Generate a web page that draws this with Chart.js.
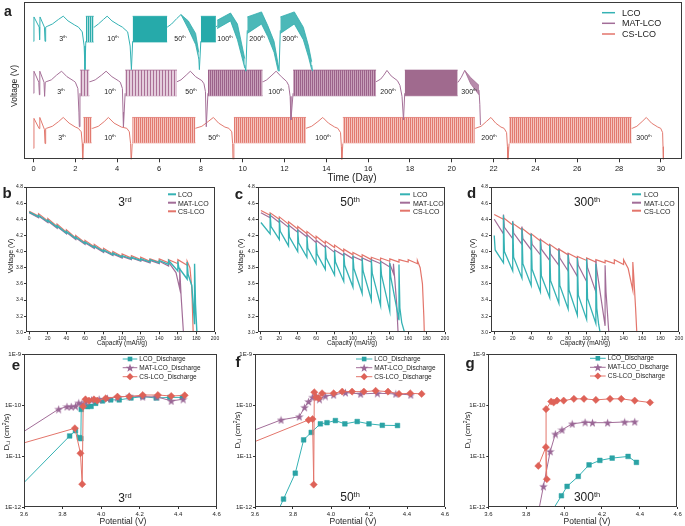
<!DOCTYPE html>
<html><head><meta charset="utf-8">
<script src="https://cdn.jsdelivr.net/npm/chart.js@4.4.1/dist/chart.umd.min.js"></script>
<style>
html,body{margin:0;padding:0;background:#fff}
body{width:685px;height:526px;position:relative;overflow:hidden;font-family:"Liberation Sans",Arial,sans-serif;color:#222}
canvas{position:absolute}
.t,.l,.r{position:absolute;white-space:nowrap;line-height:1;z-index:5}
.t{transform:translate(-50%,-50%)}
.l{transform:translate(0,-50%)}
.r{transform:translate(-50%,-50%) rotate(-90deg)}
.b{font-weight:bold}
sup{font-size:0.62em;vertical-align:0.6em;line-height:0}
sub{font-size:0.62em;vertical-align:-0.3em;line-height:0}
svg{position:absolute;left:0;top:0;z-index:4}
</style></head><body>
<canvas id="ca" width="685" height="185" style="left:0;top:0"></canvas>
<canvas id="cb" width="225" height="162" style="left:0;top:183px"></canvas>
<canvas id="cc" width="225" height="162" style="left:228px;top:183px"></canvas>
<canvas id="cd" width="227" height="162" style="left:458px;top:183px"></canvas>
<canvas id="ce" width="225" height="180" style="left:0;top:346px"></canvas>
<canvas id="cf" width="225" height="180" style="left:228px;top:346px"></canvas>
<canvas id="cg" width="227" height="180" style="left:458px;top:346px"></canvas>

<svg width="685" height="526">
 <g stroke-width="1.5">
  <line x1="602" x2="615" y1="12.7" y2="12.7" stroke="#35B2B4"/>
  <line x1="602" x2="615" y1="23.3" y2="23.3" stroke="#A26D98"/>
  <line x1="602" x2="615" y1="34" y2="34" stroke="#E3756B"/>
 </g>
 <g stroke-width="2">
  <line x1="168" x2="176" y1="194.3" y2="194.3" stroke="#35B2B4"/>
  <line x1="168" x2="176" y1="202.7" y2="202.7" stroke="#A26D98"/>
  <line x1="168" x2="176" y1="211.3" y2="211.3" stroke="#E3756B"/>
  <line x1="400" x2="410" y1="194.3" y2="194.3" stroke="#35B2B4"/>
  <line x1="400" x2="410" y1="202.7" y2="202.7" stroke="#A26D98"/>
  <line x1="400" x2="410" y1="210.7" y2="210.7" stroke="#E3756B"/>
  <line x1="632" x2="641" y1="194.3" y2="194.3" stroke="#35B2B4"/>
  <line x1="632" x2="641" y1="202.7" y2="202.7" stroke="#A26D98"/>
  <line x1="632" x2="641" y1="210.7" y2="210.7" stroke="#E3756B"/>
 </g>
 <g id="lg" stroke-width="1"></g>
</svg>

<div class="t b" style="left:8px;top:11px;font-size:14px">a</div>
<div class="r" style="left:14px;top:86px;font-size:8.5px">Voltage (V)</div>
<div class="t" style="left:352px;top:178px;font-size:10px">Time (Day)</div>
<div class="l" style="left:622px;top:12.7px;font-size:9px">LCO</div>
<div class="l" style="left:622px;top:23.3px;font-size:9px">MAT-LCO</div>
<div class="l" style="left:622px;top:34px;font-size:9px">CS-LCO</div>

<div style="font-size:7px">
<div class="t" style="left:63px;top:38px">3<sup>th</sup></div>
<div class="t" style="left:113px;top:38px">10<sup>th</sup></div>
<div class="t" style="left:180px;top:38px">50<sup>th</sup></div>
<div class="t" style="left:225px;top:38px">100<sup>th</sup></div>
<div class="t" style="left:257px;top:38px">200<sup>th</sup></div>
<div class="t" style="left:290px;top:38px">300<sup>th</sup></div>
<div class="t" style="left:61px;top:91px">3<sup>th</sup></div>
<div class="t" style="left:110px;top:91px">10<sup>th</sup></div>
<div class="t" style="left:191px;top:91px">50<sup>th</sup></div>
<div class="t" style="left:276px;top:91px">100<sup>th</sup></div>
<div class="t" style="left:388px;top:91px">200<sup>th</sup></div>
<div class="t" style="left:469px;top:91px">300<sup>th</sup></div>
<div class="t" style="left:62px;top:137px">3<sup>th</sup></div>
<div class="t" style="left:110px;top:137px">10<sup>th</sup></div>
<div class="t" style="left:214px;top:137px">50<sup>th</sup></div>
<div class="t" style="left:323px;top:137px">100<sup>th</sup></div>
<div class="t" style="left:489px;top:137px">200<sup>th</sup></div>
<div class="t" style="left:644px;top:137px">300<sup>th</sup></div>
</div>

<div class="t b" style="left:7px;top:192px;font-size:15px">b</div>
<div class="t b" style="left:239px;top:193px;font-size:15px">c</div>
<div class="t b" style="left:471.5px;top:191.5px;font-size:15px">d</div>
<div class="t b" style="left:16px;top:364px;font-size:15px">e</div>
<div class="t b" style="left:238px;top:361px;font-size:15px">f</div>
<div class="t b" style="left:470px;top:362px;font-size:15px">g</div>

<div class="t" style="left:125px;top:202px;font-size:12px">3<sup>rd</sup></div>
<div class="t" style="left:350px;top:202px;font-size:12px">50<sup>th</sup></div>
<div class="t" style="left:587px;top:202px;font-size:12px">300<sup>th</sup></div>
<div class="t" style="left:125px;top:498px;font-size:12px">3<sup>rd</sup></div>
<div class="t" style="left:350px;top:497px;font-size:12px">50<sup>th</sup></div>
<div class="t" style="left:587px;top:497px;font-size:12px">300<sup>th</sup></div>

<div style="font-size:7px">
<div class="l" style="left:178px;top:194.3px">LCO</div>
<div class="l" style="left:178px;top:202.7px">MAT-LCO</div>
<div class="l" style="left:178px;top:211.3px">CS-LCO</div>
<div class="l" style="left:413px;top:194.3px">LCO</div>
<div class="l" style="left:413px;top:202.7px">MAT-LCO</div>
<div class="l" style="left:413px;top:210.7px">CS-LCO</div>
<div class="l" style="left:644px;top:194.3px">LCO</div>
<div class="l" style="left:644px;top:202.7px">MAT-LCO</div>
<div class="l" style="left:644px;top:210.7px">CS-LCO</div>
</div>
<div style="font-size:7px">
<div class="r" style="left:10px;top:256px">Voltage (V)</div>
<div class="r" style="left:240px;top:256px">Voltage (V)</div>
<div class="r" style="left:472px;top:256px">Voltage (V)</div>
<div class="t" style="left:122px;top:343px;font-size:6.5px">Capacity (mAh/g)</div>
<div class="t" style="left:352px;top:343px;font-size:6.5px">Capacity (mAh/g)</div>
<div class="t" style="left:585px;top:343px;font-size:6.5px">Capacity (mAh/g)</div>
</div>

<div style="font-size:6.5px">
<div class="l" style="left:139.3px;top:359px">LCO_Discharge</div>
<div class="l" style="left:139.3px;top:367.7px">MAT-LCO_Discharge</div>
<div class="l" style="left:139.3px;top:376.7px">CS-LCO_Discharge</div>
<div class="l" style="left:374.3px;top:359px">LCO_Discharge</div>
<div class="l" style="left:374.3px;top:367.7px">MAT-LCO_Discharge</div>
<div class="l" style="left:374.3px;top:376.7px">CS-LCO_Discharge</div>
<div class="l" style="left:607.7px;top:358.3px">LCO_Discharge</div>
<div class="l" style="left:607.7px;top:367.3px">MAT-LCO_Discharge</div>
<div class="l" style="left:607.7px;top:376px">CS-LCO_Discharge</div>
</div>
<div style="font-size:8px">
<div class="r" style="left:7px;top:432px">D<sub>Li</sub> (cm<sup>2</sup>/s)</div>
<div class="r" style="left:238px;top:430px">D<sub>Li</sub> (cm<sup>2</sup>/s)</div>
<div class="r" style="left:468px;top:430px">D<sub>Li</sub> (cm<sup>2</sup>/s)</div>
<div class="t" style="left:123px;top:521px;font-size:8.5px">Potential (V)</div>
<div class="t" style="left:353px;top:521px;font-size:8.5px">Potential (V)</div>
<div class="t" style="left:587px;top:521px;font-size:8.5px">Potential (V)</div>
</div>

<script>
// ---------------- Panel a : GITT time series ----------------
const timeTicks = [0,2,4,6,8,10,12,14,16,18,20,22,24,26,28,30];

const lcoT = [0,0.02,0.27,0.29,0.31,0.52,0.55,0.58,0.65,0.9,1.2,1.42,1.65,1.95,2.15,2.33,2.42,2.46,2.5,2.5,
  2.88,2.9,3.1,3.35,3.52,3.75,4.05,4.25,4.5,4.62,4.68,4.74,4.74,
  6.39,6.4,6.6,6.85,7.05,7.05,
  7.9,7.93,8.0,8.0,
  8.72,8.78,8.78,
  10.1,10.15,10.22,10.22,
  11.7,11.74,11.8,11.8,
  13.3,13.34];
const lcoV = [75,90.5,84,76,90.5,84,75,84,84.5,86,89,91,88,85.5,84,81,72,57,75,null,
  84,84,86,89,91,88,85.5,84,81,72,57,75,null,
  84,84,86,89.5,92,null,
  65,57,75,null,
  84,85,null,
  60,56,82,null,
  60,56,82,null,
  60,56];

const matT = [0,0.02,0.25,0.28,0.3,0.5,0.53,0.56,0.6,0.85,1.1,1.34,1.6,1.9,2.0,2.12,2.17,2.19,2.22,2.22,
  2.67,2.7,2.95,3.25,3.47,3.75,4.05,4.15,4.25,4.28,4.3,4.38,4.38,
  6.86,6.87,7.05,7.3,7.5,7.75,8.05,8.15,8.22,8.26,8.34,8.34,
  10.95,10.98,11.15,11.4,11.6,11.85,12.1,12.2,12.27,12.31,12.41,12.41,
  16.38,16.4,16.6,16.75,16.9,17.1,17.4,17.52,17.62,17.69,17.75,17.75,
  20.28,20.3,20.45,20.62,20.62,
  21.3,21.34,21.37];
const matV = [42,56,49,41,56,49,40,49,49.3,50.5,53.5,56,52.5,50,49,45,30,20.7,42,null,
  49.3,49.3,50.5,53.5,56,52.5,50,49,45,30,20.7,42,null,
  49.3,49.3,50.5,53.5,56,52.5,50,48,43,20.7,42,null,
  49.3,49.3,50.5,53.5,56,52.5,49.5,47,40,25,42,null,
  49.3,49.3,51,53.5,56.5,53,50,47,40,25,42,null,
  49,49,52,56.5,null,
  44,35,21.8];

const csT = [0,0.02,0.27,0.3,0.52,0.55,0.58,0.62,0.9,1.2,1.42,1.7,2.0,2.14,2.28,2.33,2.35,2.38,2.38,
  2.78,2.83,3.1,3.38,3.58,3.85,4.2,4.46,4.58,4.64,4.67,4.72,4.72,
  7.74,7.76,8.05,8.35,8.6,8.85,9.15,9.34,9.48,9.52,9.54,9.58,9.58,
  13.03,13.06,13.3,13.6,13.83,14.1,14.4,14.55,14.68,14.72,14.74,14.79,14.79,
  21.1,21.13,21.4,21.65,21.87,22.1,22.35,22.5,22.62,22.66,22.68,22.74,22.74,
  28.6,28.63,28.85,29.1,29.3,29.55,29.85,29.99,30.08,30.1,30.12];
const csV = [7,26,19.5,26.6,19,10,19.5,19.7,21,24,26.6,23,20.5,19.7,17.5,10,-2,10,null,
  19.7,19.7,21,24,26.6,23,20.5,19.7,17.5,10,-2,10,null,
  19.7,19.7,21,24,26.6,23,20.5,19.7,17.5,10,-2,10,null,
  19.7,19.7,21,24,26.6,23,20.5,19.7,17,8,-2,10,null,
  19.7,19.7,21,24,26.6,23,20.5,19.7,17,8,-2,10,null,
  19.7,19.7,21,24,26.6,23,20.5,19.7,17,8,-2];

// GITT pulse blocks (time span, upper and lower envelopes)
const lcoBandT  = [[2.5,2.88],[4.74,6.39],[7.05,7.4,7.75,7.9],[8.0,8.72],[8.78,9.42,9.75,10.1],[10.22,10.9,11.2,11.5,11.7],[11.8,12.47,12.9,13.15,13.3]];
const lcoBandHi = [[90.9,90.9],[90.9,90.9],[92,88,80,68],[90.9,90.9],[88.4,93,86,64],[90.5,93.7,85,75,60],[90.5,93.7,84,72,62]];
const lcoBandLo = [[74.6,74.6],[74.6,74.6],[92,83,73,64],[74.6,74.6],[83.1,88,76,58],[80,86,78,68,56],[80,86,76,65,57]];
const matBandT  = [[2.22,2.67],[4.38,6.86],[8.34,10.95],[12.41,16.38],[17.75,20.28],[20.62,20.9,21.3]];
const matBandHi = [[56.7,56.7],[56.7,56.7],[56.7,56.7],[56.7,56.7],[56.7,56.7],[56.5,52,47]];
const matBandLo = [[40.4,40.4],[40.4,40.4],[40.4,40.4],[40.4,40.4],[40.4,40.4],[56.5,48,41]];
const csBandT   = [[2.38,2.78],[4.72,7.74],[9.58,13.03],[14.79,21.1],[22.74,28.6]];
const csBandHi  = [[26.6,26.6],[26.6,26.6],[26.6,26.6],[26.6,26.6],[26.6,26.6]];
const csBandLo  = [[10.5,10.5],[10.5,10.5],[10.5,10.5],[10.5,10.5],[10.5,10.5]];

// ---------------- Panels b-d : GITT discharge curves ----------------
const capTicks = [0,20,40,60,80,100,120,140,160,180,200];
const voltTicks = [3.0,3.2,3.4,3.6,3.8,4.0,4.2,4.4,4.6,4.8];

const b_LCO_cap = [0,10,20,30,40,50,60,70,80,90,100,110,120,130,140,150,160,170,175,178];
const b_LCO_low = [null,4.43,4.37,4.30,4.23,4.16,4.10,4.05,4.00,3.96,3.93,3.91,3.89,3.87,3.86,3.84,3.76,3.66,3.58,3.10];
const b_LCO_top = [4.49,4.45,4.39,4.32,4.25,4.18,4.12,4.07,4.02,3.98,3.95,3.93,3.91,3.90,3.89,3.89,3.88,3.87,3.58,3.85];
const b_LCO_start = [null,null,null,null,null,null,null,null,null,null,null,null,null,null,null,null,3.80,3.72,null,null];
const b_LCO_tailCap = [179,180.5];
const b_LCO_tailV = [3.35,3.0];
const b_MAT_cap = [0,10,20,30,40,50,60,70,80,90,100,110,120,130,140,150,158,162];
const b_MAT_low = [null,4.42,4.36,4.29,4.22,4.15,4.09,4.04,3.99,3.95,3.92,3.90,3.88,3.86,3.85,3.82,3.74,3.54];
const b_MAT_top = [4.48,4.44,4.38,4.31,4.24,4.17,4.11,4.06,4.01,3.97,3.94,3.92,3.90,3.89,3.88,3.87,3.74,3.80];
const b_MAT_tailCap = [163.5,166];
const b_MAT_tailV = [3.45,3.0];
const b_CS_cap = [0,10,20,30,40,50,60,70,80,90,100,110,120,130,140,150,160,170];
const b_CS_low = [null,4.44,4.38,4.31,4.24,4.17,4.11,4.06,4.01,3.97,3.94,3.92,3.90,3.88,3.87,3.86,3.85,3.83];
const b_CS_top = [4.50,4.47,4.41,4.34,4.27,4.20,4.14,4.09,4.04,4.00,3.97,3.95,3.93,3.91,3.91,3.90,3.90,3.88];
const b_CS_tailCap = [173,175,176.5];
const b_CS_tailV = [3.80,3.55,3.0];

const c_LCO_cap = [0,10,20,30,40,50,60,70,80,90,100,110,120,130,140,150];
const c_LCO_low = [null,4.22,4.15,4.07,4.00,3.93,3.85,3.78,3.71,3.63,3.56,3.48,3.40,3.33,3.26,3.15];
const c_LCO_top = [4.36,4.47,4.41,4.34,4.27,4.19,4.11,4.06,4.01,3.98,3.95,3.92,3.90,3.88,3.86,3.84];
const c_LCO_start = [null,4.31,4.25,4.18,4.11,4.04,3.97,3.92,3.87,3.83,3.79,3.76,3.73,3.71,3.69,null];
const c_LCO_tailCap = [151,153,156];
const c_LCO_tailV = [3.30,3.12,3.0];
const c_MAT_cap = [0,10,20,30,40,50,60,70,80,90,100,110,120,130,140,144];
const c_MAT_low = [null,4.42,4.36,4.30,4.24,4.18,4.11,4.05,3.99,3.95,3.91,3.89,3.87,3.85,3.81,3.73];
const c_MAT_top = [4.48,4.45,4.39,4.33,4.27,4.21,4.14,4.08,4.02,3.98,3.94,3.92,3.90,3.88,3.85,3.85];
const c_MAT_tailCap = [145.5,147.5,149];
const c_MAT_tailV = [3.65,3.35,3.0];
const c_CS_cap = [0,10,20,30,40,50,60,70,80,90,100,110,120,130,140,150,160,170];
const c_CS_low = [null,4.45,4.40,4.34,4.28,4.22,4.16,4.10,4.05,4.00,3.96,3.93,3.90,3.89,3.88,3.87,3.87,3.85];
const c_CS_top = [4.51,4.48,4.43,4.37,4.31,4.25,4.19,4.13,4.08,4.03,3.99,3.96,3.93,3.92,3.91,3.90,3.90,3.89];
const c_CS_tailCap = [173,175.5,177,177.5];
const c_CS_tailV = [3.80,3.60,3.20,3.0];

const d_LCO_cap = [0,10,20,30,40,50,60,70,80,90,100,110];
const d_LCO_low = [null,3.86,3.76,3.67,3.58,3.50,3.43,3.36,3.29,3.21,3.16,3.11];
const d_LCO_top = [4.20,4.45,4.37,4.29,4.22,4.14,4.08,4.02,3.96,3.92,3.91,3.85];
const d_LCO_start = [4.02,4.00,3.93,3.85,3.78,3.70,3.64,3.58,3.52,3.46,3.42,null];
const d_LCO_tailCap = [111,113,114.6];
const d_LCO_tailV = [3.30,3.10,3.0];
const d_MAT_cap = [0,10,20,30,40,50,60,70,80,90,100,110,120];
const d_MAT_low = [null,4.22,4.16,4.09,4.02,3.96,3.89,3.83,3.76,3.69,3.63,3.50,3.08];
const d_MAT_top = [4.40,4.46,4.38,4.31,4.22,4.16,4.09,4.04,3.98,3.93,3.91,3.89,3.83];
const d_MAT_start = [null,4.30,4.23,4.16,4.09,4.03,3.97,3.92,3.87,3.83,3.80,3.78,null];
const d_MAT_tailCap = [121,124];
const d_MAT_tailV = [3.50,3.0];
const d_CS_cap = [0,10,20,30,40,50,60,70,80,90,100,110,120,130,140,145,150];
const d_CS_low = [null,4.40,4.33,4.27,4.20,4.13,4.07,4.01,3.96,3.92,3.89,3.87,3.86,3.85,3.84,3.79,3.52];
const d_CS_top = [4.46,4.42,4.35,4.29,4.22,4.15,4.09,4.03,3.98,3.94,3.92,3.90,3.89,3.90,3.90,3.79,3.87];
const d_CS_tailCap = [151,153,154.3];
const d_CS_tailV = [3.70,3.30,3.0];

// ---------------- Panels e-g : diffusion coefficients ----------------
const potTicks = [3.6,3.8,4.0,4.2,4.4,4.6];
const dTicks = [1e-12,1e-11,1e-10,1e-9];

const e_LCO_x = [3.50,3.837,3.867,3.888,3.895,3.897,3.93,3.948,3.972,4.007,4.05,4.094,4.155,4.216,4.286,4.356,4.422];
const e_LCO_y = [1.24e-12,2.47e-11,3.14e-11,2.29e-11,2.19e-11,8.2e-11,9.3e-11,9.4e-11,1.08e-10,1.2e-10,1.26e-10,1.26e-10,1.37e-10,1.46e-10,1.37e-10,1.41e-10,1.41e-10];
const e_MAT_x = [3.50,3.78,3.823,3.845,3.867,3.884,3.90,3.92,3.95,3.99,4.033,4.085,4.146,4.216,4.29,4.364,4.426];
const e_MAT_y = [1.74e-11,8.3e-11,9.3e-11,9.3e-11,9.5e-11,1.1e-10,1.05e-10,1.15e-10,1.25e-10,1.3e-10,1.35e-10,1.42e-10,1.5e-10,1.45e-10,1.45e-10,1.2e-10,1.3e-10];
const e_CS_x = [3.50,3.864,3.893,3.902,3.907,3.919,3.937,3.963,3.98,4.024,4.085,4.146,4.216,4.295,4.364,4.434];
const e_CS_y = [1.41e-11,3.5e-11,1.13e-11,2.8e-12,9.3e-11,1.29e-10,1.22e-10,1.29e-10,1.22e-10,1.35e-10,1.46e-10,1.46e-10,1.57e-10,1.57e-10,1.5e-10,1.55e-10];

const f_LCO_x = [3.70,3.75,3.812,3.856,3.896,3.944,3.979,4.023,4.073,4.138,4.20,4.27,4.35];
const f_LCO_y = [5.6e-13,1.43e-12,4.6e-12,2.07e-11,2.9e-11,4.27e-11,4.5e-11,4.95e-11,4.27e-11,4.74e-11,4.27e-11,4.0e-11,3.96e-11];
const f_MAT_x = [3.50,3.737,3.833,3.861,3.882,3.903,3.921,3.939,3.97,4.014,4.076,4.156,4.244,4.341,4.42];
const f_MAT_y = [2.34e-11,5.1e-11,5.9e-11,9.0e-11,1.17e-10,1.42e-10,1.5e-10,1.3e-10,1.5e-10,1.58e-10,1.75e-10,1.65e-10,1.7e-10,1.65e-10,1.58e-10];
const f_CS_x = [3.50,3.882,3.903,3.909,3.912,3.921,3.935,3.953,4.014,4.059,4.111,4.173,4.235,4.30,4.358,4.417,4.477];
const f_CS_y = [1.36e-11,5.1e-11,5.3e-11,2.75e-12,1.78e-10,1.42e-10,1.37e-10,1.7e-10,1.7e-10,1.83e-10,1.83e-10,1.83e-10,1.9e-10,1.83e-10,1.65e-10,1.7e-10,1.65e-10];

const g_LCO_x = [3.93,3.986,4.016,4.075,4.132,4.189,4.254,4.338,4.382];
const g_LCO_y = [7.6e-13,1.66e-12,2.54e-12,3.98e-12,6.7e-12,8.2e-12,9.1e-12,9.8e-12,7.5e-12];
const g_MAT_x = [3.86,3.891,3.927,3.954,3.989,4.043,4.111,4.15,4.23,4.32,4.373];
const g_MAT_y = [6.5e-13,2.54e-12,1.23e-11,2.7e-11,3.26e-11,4.27e-11,4.6e-11,4.5e-11,4.5e-11,4.65e-11,4.7e-11];
const g_CS_x = [3.864,3.904,3.909,3.905,3.932,3.945,3.963,3.998,4.052,4.105,4.168,4.243,4.302,4.373,4.454];
const g_CS_y = [6.4e-12,1.49e-11,3.5e-12,8.3e-11,1.17e-10,1.12e-10,1.22e-10,1.22e-10,1.32e-10,1.32e-10,1.26e-10,1.32e-10,1.32e-10,1.22e-10,1.12e-10];

// ---------------- styling & helpers ----------------
const TEAL='#35B2B4', PURP='#A26D98', RED='#E3756B';
const TEAL_M='#2BA3A5', PURP_M='#9A6796', RED_M='#DE6258';
Chart.defaults.font.family='"Liberation Sans", Arial, sans-serif';
Chart.defaults.color='#222';

function stripes(bg, fg, period){
  const c=document.createElement('canvas'); c.width=period; c.height=4;
  const g=c.getContext('2d'); g.fillStyle=bg; g.fillRect(0,0,period,4);
  g.fillStyle=fg; g.fillRect(0,0,1,4);
  return g.createPattern(c,'repeat');
}
function starImg(fill, size){
  const c=document.createElement('canvas'); c.width=c.height=size;
  const g=c.getContext('2d'); g.beginPath();
  for(let i=0;i<10;i++){
    const r=(i%2? 0.2:0.5)*size, a=-Math.PI/2+i*Math.PI/5;
    g.lineTo(size/2+r*Math.cos(a), size/2+0.5+r*Math.sin(a));
  }
  g.closePath(); g.fillStyle=fill; g.fill(); return c;
}
const boxPlugin={id:'box',afterDraw(ch){
  const a=ch.chartArea,c=ch.ctx; c.save(); c.strokeStyle='#3a3a3a'; c.lineWidth=1;
  c.strokeRect(Math.round(a.left)+0.5,Math.round(a.top)+0.5,Math.round(a.right-a.left)-1,Math.round(a.bottom-a.top)-1);
  c.restore();}};

function xScale(o){
  return {type:o.type||'linear',min:o.min,max:o.max,
    afterFit:s=>{s.height=o.h;},
    afterBuildTicks:s=>{s.ticks=o.ticks.map(v=>({value:v}));},
    grid:{display:true,drawOnChartArea:false,drawTicks:true,tickLength:o.tl||2,color:'#333'},
    border:{display:false},
    ticks:{font:{size:o.fs},color:'#222',padding:o.pad||1,maxRotation:0,autoSkip:false,callback:o.cb}};
}
function yScale(o){
  const s=xScale(o); s.afterFit=sc=>{sc.width=o.w;}; return s;
}
function baseOpts(scales,pad){
  return {responsive:false,animation:false,devicePixelRatio:1,
    layout:{padding:pad},
    plugins:{legend:{display:false},tooltip:{enabled:false}},
    scales:scales,elements:{line:{tension:0}}};
}

// ---------------- Panel a ----------------
(function(){
  const sets=[];
  function trace(T,V,col){
    sets.push({data:T.map((t,i)=>({x:t,y:V[i]})),borderColor:col,borderWidth:1,pointRadius:0,fill:false,spanGaps:false});
  }
  function bands(T,HI,LO,styles){
    T.forEach((tt,k)=>{
      const st=styles[k];
      sets.push({data:tt.map((x,i)=>({x:x,y:HI[k][i]})),borderColor:st.line,borderWidth:0.8,pointRadius:0,fill:'+1',backgroundColor:st.fill});
      sets.push({data:tt.map((x,i)=>({x:x,y:LO[k][i]})),borderColor:st.line,borderWidth:0.8,pointRadius:0,fill:false});
    });
  }
  trace(lcoT,lcoV,'rgb(52,178,180)');
  trace(matT,matV,'rgb(165,112,152)');
  trace(csT,csV,'rgb(226,122,112)');
  const tStr={fill:stripes('rgb(170,222,222)','rgb(45,172,172)',2),line:'rgb(45,172,172)'};
  const tSol={fill:'rgb(38,170,170)',line:'rgb(38,170,170)'};
  const tW={fill:'rgba(45,172,172,0.85)',line:'rgb(45,172,172)'};
  bands(lcoBandT,lcoBandHi,lcoBandLo,[tStr,tSol,tW,tSol,tW,tW,tW]);
  const pStr={fill:stripes('rgb(228,205,220)','rgb(170,112,150)',3),line:'rgb(170,112,150)'};
  const pDen={fill:stripes('rgb(200,160,186)','rgb(155,98,138)',2),line:'rgb(155,98,138)'};
  const pSol={fill:'rgb(160,106,142)',line:'rgb(160,106,142)'};
  bands(matBandT,matBandHi,matBandLo,[pStr,pStr,pDen,pDen,pSol,{fill:'rgba(165,110,150,0.8)',line:'rgb(165,110,150)'}]);
  const rStr={fill:stripes('rgb(244,196,190)','rgb(226,122,112)',2),line:'rgb(226,122,112)'};
  bands(csBandT,csBandHi,csBandLo,[rStr,rStr,rStr,rStr,rStr]);
  new Chart(document.getElementById('ca'),{type:'line',data:{datasets:sets},
    options:baseOpts({
      x:xScale({min:-0.48,max:30.96,ticks:timeTicks,h:25.7,fs:7.5,tl:3,pad:2,cb:v=>String(v)}),
      y:{type:'linear',min:0,max:100,ticks:{display:false},grid:{display:false},border:{display:false},afterFit:s=>{s.width=23.5;}}
    },{top:2,right:4,left:0,bottom:0}),plugins:[boxPlugin]});
})();

// ---------------- Panels b-d ----------------
function gittPath(cap,low,top,start,tailCap,tailV){
  const pts=[];
  for(let i=0;i<cap.length;i++){
    if(low[i]!=null) pts.push({x:cap[i],y:low[i]});
    pts.push({x:cap[i],y:top[i]});
    if(start && start[i]!=null) pts.push({x:cap[i]+1,y:start[i]});
  }
  tailCap.forEach((c,i)=>pts.push({x:c,y:tailV[i]}));
  return pts;
}
function voltChart(id,w,rp,curves){
  const sets=curves.map(c=>({data:c.pts,borderColor:c.col,borderWidth:c.bw,pointRadius:0,fill:false}));
  new Chart(document.getElementById(id),{type:'line',data:{datasets:sets},
    options:baseOpts({
      x:xScale({min:-3.5,max:200,ticks:capTicks,h:12.7,fs:5,tl:2,pad:1,cb:v=>String(v)}),
      y:yScale({min:3.0,max:4.8,ticks:voltTicks,w:w,fs:5,tl:2,pad:1,cb:v=>v.toFixed(1)})
    },{top:3.7,right:rp,left:0,bottom:0}),plugins:[boxPlugin]});
}
voltChart('cb',26,10,[
  {pts:gittPath(b_LCO_cap,b_LCO_low,b_LCO_top,b_LCO_start,b_LCO_tailCap,b_LCO_tailV),col:TEAL,bw:1.4},
  {pts:gittPath(b_MAT_cap,b_MAT_low,b_MAT_top,null,b_MAT_tailCap,b_MAT_tailV),col:PURP,bw:1.2},
  {pts:gittPath(b_CS_cap,b_CS_low,b_CS_top,null,b_CS_tailCap,b_CS_tailV),col:RED,bw:1.2}]);
voltChart('cc',29.7,8,[
  {pts:gittPath(c_LCO_cap,c_LCO_low,c_LCO_top,c_LCO_start,c_LCO_tailCap,c_LCO_tailV),col:TEAL,bw:1.3},
  {pts:gittPath(c_MAT_cap,c_MAT_low,c_MAT_top,null,c_MAT_tailCap,c_MAT_tailV),col:PURP,bw:1.2},
  {pts:gittPath(c_CS_cap,c_CS_low,c_CS_top,null,c_CS_tailCap,c_CS_tailV),col:RED,bw:1.2}]);
voltChart('cd',33,6,[
  {pts:gittPath(d_LCO_cap,d_LCO_low,d_LCO_top,d_LCO_start,d_LCO_tailCap,d_LCO_tailV),col:TEAL,bw:1.3},
  {pts:gittPath(d_MAT_cap,d_MAT_low,d_MAT_top,d_MAT_start,d_MAT_tailCap,d_MAT_tailV),col:PURP,bw:1.2},
  {pts:gittPath(d_CS_cap,d_CS_low,d_CS_top,null,d_CS_tailCap,d_CS_tailV),col:RED,bw:1.2}]);

// ---------------- Panels e-g ----------------
const STAR=starImg(PURP_M,9);
function visR(R){return c=>{const r=c.raw; if(!r) return R; return (r.x<3.6||r.y<1e-12)?0:R;};}
function dChart(id,w,rp,lco,mat,cs){
  const mk=(xs,ys)=>xs.map((x,i)=>({x:x,y:ys[i]}));
  const sets=[
    {data:mk(cs[0],cs[1]),borderColor:RED,borderWidth:1,pointStyle:'rectRot',pointRadius:visR(3.6),pointBackgroundColor:RED_M,pointBorderColor:RED_M,pointBorderWidth:0.5,fill:false},
    {data:mk(mat[0],mat[1]),borderColor:PURP,borderWidth:1,pointStyle:STAR,pointRadius:visR(4),fill:false},
    {data:mk(lco[0],lco[1]),borderColor:TEAL,borderWidth:1,pointStyle:'rect',pointRadius:visR(3.3),pointBackgroundColor:TEAL_M,pointBorderColor:TEAL_M,pointBorderWidth:0.5,fill:false}];
  new Chart(document.getElementById(id),{type:'line',data:{datasets:sets},
    options:baseOpts({
      x:xScale({min:3.6,max:4.6,ticks:potTicks,h:19,fs:6,tl:2,pad:2,cb:v=>v.toFixed(1)}),
      y:yScale({type:'logarithmic',min:1e-12,max:1e-9,ticks:dTicks,w:w,fs:6,tl:2,pad:1,cb:v=>'1E'+Math.round(Math.log10(v))})
    },{top:8,right:rp,left:0,bottom:0}),plugins:[boxPlugin]});
}
dChart('ce',24,8.3,[e_LCO_x,e_LCO_y],[e_MAT_x,e_MAT_y],[e_CS_x,e_CS_y]);
dChart('cf',27,8,[f_LCO_x,f_LCO_y],[f_MAT_x,f_MAT_y],[f_CS_x,f_CS_y]);
dChart('cg',30.3,7.3,[g_LCO_x,g_LCO_y],[g_MAT_x,g_MAT_y],[g_CS_x,g_CS_y]);

// legend swatches for e-g
(function(){
  const g=document.getElementById('lg'); const NS='http://www.w3.org/2000/svg';
  const rows=[[122.7,137.3,[359,367.7,376.7]],[356,372.3,[359,367.7,376.7]],[590,605.7,[358.3,367.3,376]]];
  function el(n,a){const e=document.createElementNS(NS,n);for(const k in a)e.setAttribute(k,a[k]);g.appendChild(e);}
  rows.forEach(([x1,x2,ys])=>{
    const cx=(x1+x2)/2;
    el('line',{x1:x1,x2:x2,y1:ys[0],y2:ys[0],stroke:TEAL});
    el('rect',{x:cx-2.3,y:ys[0]-2.3,width:4.6,height:4.6,fill:TEAL_M});
    el('line',{x1:x1,x2:x2,y1:ys[1],y2:ys[1],stroke:PURP});
    let p=''; for(let i=0;i<10;i++){const r=i%2?1.8:4.5,a=-Math.PI/2+i*Math.PI/5;p+=(cx+r*Math.cos(a)).toFixed(2)+','+(ys[1]+0.5+r*Math.sin(a)).toFixed(2)+' ';}
    el('polygon',{points:p,fill:PURP_M});
    el('line',{x1:x1,x2:x2,y1:ys[2],y2:ys[2],stroke:RED});
    el('polygon',{points:`${cx},${ys[2]-3.6} ${cx+3.6},${ys[2]} ${cx},${ys[2]+3.6} ${cx-3.6},${ys[2]}`,fill:RED_M});
  });
})();
</script>
</body></html>
